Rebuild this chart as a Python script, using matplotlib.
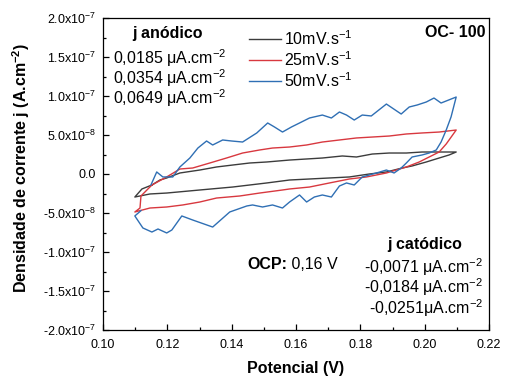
import matplotlib
matplotlib.use('Agg')
import matplotlib.pyplot as plt
from matplotlib.ticker import MultipleLocator, FuncFormatter
import numpy as np

plt.rcParams['font.family'] = ['Liberation Sans', 'DejaVu Sans']
plt.rcParams['mathtext.fontset'] = 'custom'
plt.rcParams['mathtext.rm'] = 'Liberation Sans'
plt.rcParams['mathtext.it'] = 'Liberation Sans:italic'
plt.rcParams['mathtext.bf'] = 'Liberation Sans:bold'

# ---------------- data (potential in V, current density in units of 1e-8 A/cm2) ----------------
# 10 mV/s
v10_up = [0.1152, 0.1177, 0.1198, 0.1239, 0.1301, 0.1353, 0.1403, 0.1456, 0.1509, 0.1580,
          0.1682, 0.1744, 0.1788, 0.1837, 0.1890, 0.1943, 0.1992, 0.2045, 0.2098]
j10_up = [-1.41, -0.77, -0.51, 0.13, 0.51, 0.90, 1.15, 1.41, 1.54, 1.79,
          2.05, 2.31, 2.18, 2.56, 2.69, 2.69, 2.82, 2.82, 2.82]
v10_dn = [0.2076, 0.2045, 0.2005, 0.1961, 0.1930, 0.1881, 0.1828, 0.1766, 0.1704, 0.1642,
          0.1580, 0.1509, 0.1403, 0.1301, 0.1198, 0.1146, 0.1099, 0.1121, 0.1152]
j10_dn = [2.44, 2.05, 1.54, 1.03, 0.77, 0.26, 0.00, -0.38, -0.51, -0.64,
          -0.77, -1.15, -1.67, -2.05, -2.44, -2.56, -2.95, -1.92, -1.41]

# 25 mV/s
v25_up = [0.1152, 0.1198, 0.1239, 0.1279, 0.1332, 0.1384, 0.1434, 0.1487, 0.1527, 0.1580,
          0.1633, 0.1682, 0.1735, 0.1788, 0.1837, 0.1890, 0.1943, 0.1992, 0.2045, 0.2098]
j25_up = [-1.41, -0.38, 0.64, 0.77, 1.41, 2.05, 2.69, 3.08, 3.33, 3.46,
          3.72, 4.10, 4.36, 4.62, 4.74, 4.87, 5.13, 5.26, 5.38, 5.64]
v25_dn = [0.2067, 0.2045, 0.2014, 0.1983, 0.1943, 0.1881, 0.1819, 0.1766, 0.1704, 0.1642,
          0.1580, 0.1558, 0.1487, 0.1425, 0.1353, 0.1301, 0.1248, 0.1198, 0.1146, 0.1099,
          0.1115, 0.1118, 0.1152]
j25_dn = [3.85, 2.82, 2.18, 1.54, 0.90, 0.13, -0.38, -0.64, -1.15, -1.67,
          -1.92, -2.05, -2.44, -2.82, -3.08, -3.59, -3.97, -4.23, -4.36, -4.87,
          -4.36, -2.82, -1.41]

# 50 mV/s
v50_up = [0.1149, 0.1167, 0.1186, 0.1217, 0.1239, 0.1270, 0.1295, 0.1322, 0.1341, 0.1372,
          0.1400, 0.1434, 0.1478, 0.1512, 0.1533, 0.1558, 0.1586, 0.1611, 0.1642, 0.1682,
          0.1710, 0.1735, 0.1757, 0.1781, 0.1806, 0.1834, 0.1881, 0.1927, 0.1952, 0.1977,
          0.2005, 0.2029, 0.2051, 0.2098]
j50_up = [-1.41, 0.26, -0.38, -0.38, 0.90, 2.05, 3.33, 4.23, 3.72, 4.36,
          4.23, 4.10, 5.26, 6.54, 6.03, 5.38, 6.03, 6.54, 7.18, 7.56,
          7.18, 7.95, 7.56, 6.92, 7.56, 7.44, 8.97, 7.69, 8.59, 8.85,
          9.23, 9.74, 9.10, 9.87]
v50_dn = [0.2082, 0.2067, 0.2051, 0.2036, 0.2014, 0.1992, 0.1961, 0.1943, 0.1927, 0.1905,
          0.1881, 0.1850, 0.1806, 0.1781, 0.1757, 0.1735, 0.1710, 0.1682, 0.1657, 0.1633,
          0.1611, 0.1580, 0.1558, 0.1527, 0.1496, 0.1465, 0.1447, 0.1394, 0.1341, 0.1279,
          0.1245, 0.1214, 0.1198, 0.1171, 0.1152, 0.1124, 0.1099, 0.1118]
j50_dn = [7.31, 5.64, 4.10, 3.08, 2.69, 2.44, 2.18, 1.41, 0.77, 0.13,
          0.51, 0.13, -0.38, -1.41, -1.15, -1.54, -2.95, -2.69, -2.95, -3.59,
          -2.69, -3.59, -4.36, -3.97, -4.23, -3.97, -4.10, -4.87, -6.80, -5.90,
          -5.38, -7.18, -7.56, -7.05, -7.44, -6.92, -5.38, -4.70]

labels = ['10mV.s$^{-1}$', '25mV.s$^{-1}$', '50mV.s$^{-1}$']
colors = ['#3c3c3c', '#d8383f', '#2f6fb4']
anodic = ['0,0185 \u03bcA.cm$^{-2}$', '0,0354 \u03bcA.cm$^{-2}$', '0,0649 \u03bcA.cm$^{-2}$']
cathodic = ['-0,0071 \u03bcA.cm$^{-2}$', '-0,0184 \u03bcA.cm$^{-2}$', '-0,0251\u03bcA.cm$^{-2}$']

scale = 1e-8
series = [(v10_up + v10_dn, j10_up + j10_dn),
          (v25_up + v25_dn, j25_up + j25_dn),
          (v50_up + v50_dn, j50_up + j50_dn)]

fig = plt.figure(figsize=(5.05, 3.79), dpi=100)
ax = fig.add_axes([103/505, 1 - 330/379, 386/505, 312/379])

handles = []
for (v, j), c, lab in zip(series, colors, labels):
    ln, = ax.plot(v, np.array(j) * scale, color=c, lw=1.0, label=lab)
    handles.append(ln)

ax.set_xlim(0.10, 0.22)
ax.set_ylim(-2.0e-7, 2.0e-7)
ax.xaxis.set_major_locator(MultipleLocator(0.02))
ax.xaxis.set_minor_locator(MultipleLocator(0.01))
ax.yaxis.set_major_locator(MultipleLocator(5e-8))
ax.yaxis.set_minor_locator(MultipleLocator(2.5e-8))
ax.xaxis.set_major_formatter(FuncFormatter(lambda v, p: f'{v:.2f}'))

def yfmt(v, pos):
    if abs(v) < 1e-12:
        return '0.0'
    e = int(np.floor(np.log10(abs(v)) + 1e-9))
    m = v / 10**e
    return f'{m:.1f}x10$^{{{e}}}$'

ax.yaxis.set_major_formatter(FuncFormatter(yfmt))
ax.tick_params(which='both', direction='in', top=False, right=False, labelsize=9, pad=5, width=0.9)
ax.tick_params(axis='x', which='both', pad=6.5)
ax.tick_params(which='major', length=4)
ax.tick_params(which='minor', length=2.5)
for s in ax.spines.values():
    s.set_linewidth(0.9)

ax.set_xlabel('Potencial (V)', fontsize=11.5, fontweight='bold')
ax.xaxis.set_label_coords(0.5, -0.098)
ax.set_ylabel('Densidade de corrente j (A.cm$^{\\mathbf{-2}}$)', fontsize=11.5, fontweight='bold')
ax.yaxis.set_label_coords(-0.185, 0.52)

leg = ax.legend(handles=handles, loc='upper left', bbox_to_anchor=(0.378, 0.965), frameon=False,
                fontsize=11.5, handlelength=2.0, handletextpad=0.2, labelspacing=0.15,
                borderaxespad=0, borderpad=0)

fs = 11.5
ax.text(0.166, 0.936, 'j anódico', transform=ax.transAxes, ha='center', va='baseline',
        fontsize=fs, fontweight='bold')
for t, y in zip(anodic, [0.853, 0.789, 0.725]):
    ax.text(0.026, y, t, transform=ax.transAxes, ha='left', va='baseline', fontsize=fs)

ax.text(0.990, 0.939, 'OC- 100', transform=ax.transAxes, ha='right', va='baseline',
        fontsize=fs, fontweight='bold')
ocp = ax.text(0.373, 0.196, 'OCP:', transform=ax.transAxes, ha='left', va='baseline',
              fontsize=fs, fontweight='bold')
ax.annotate(' 0,16 V', xy=(1, 0), xycoords=ocp, ha='left', va='bottom', fontsize=fs)
ax.text(0.834, 0.260, 'j catódico', transform=ax.transAxes, ha='center', va='baseline',
        fontsize=fs, fontweight='bold')
for t, y in zip(cathodic, [0.183, 0.119, 0.051]):
    ax.text(0.984, y, t, transform=ax.transAxes, ha='right', va='baseline', fontsize=fs)

fig.savefig('out.png', dpi=100)
